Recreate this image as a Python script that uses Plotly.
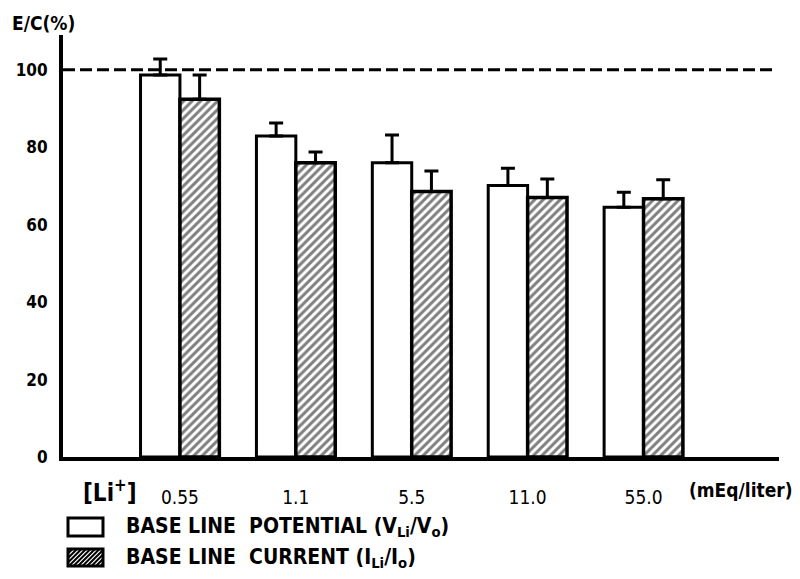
import plotly.graph_objects as go

# ---- data ----
concentrations = ["0.55", "1.1", "5.5", "11.0", "55.0"]
potential_values = [98.7, 82.9, 76.0, 70.1, 64.5]
potential_errors = [4.1, 3.4, 7.2, 4.5, 3.9]
current_values = [92.4, 76.0, 68.6, 67.0, 66.7]
current_errors = [6.3, 2.8, 5.3, 4.8, 4.9]
y_ticks = [0, 20, 40, 60, 80, 100]
reference_level = 100
series_names = ["BASE LINE  POTENTIAL (V<sub>Li</sub>/V<sub>o</sub>)",
                "BASE LINE  CURRENT (I<sub>Li</sub>/I<sub>o</sub>)"]

FONT = "DejaVu Sans Condensed, Liberation Sans Narrow, DejaVu Sans, sans-serif"
x_idx = list(range(len(concentrations)))

fig = go.Figure()
fig.add_trace(go.Bar(
    x=x_idx, y=potential_values, name=series_names[0],
    marker=dict(color="white", line=dict(color="black", width=3)),
    error_y=dict(type="data", symmetric=False, array=potential_errors,
                 arrayminus=[0] * len(potential_errors),
                 color="black", thickness=3, width=7),
    showlegend=False,
))
fig.add_trace(go.Bar(
    x=x_idx, y=current_values, name=series_names[1],
    marker=dict(color="white", line=dict(color="black", width=3.5),
                pattern=dict(shape="/", fgcolor="black", bgcolor="white",
                             size=6, solidity=0.5)),
    error_y=dict(type="data", symmetric=False, array=current_errors,
                 arrayminus=[0] * len(current_errors),
                 color="black", thickness=3, width=7),
    showlegend=False,
))

# reference dashed line at 100 %
fig.add_shape(type="line", xref="paper", yref="y", x0=0, x1=0.997,
              y0=reference_level, y1=reference_level,
              line=dict(color="black", width=3, dash="12px,5px"))

# ---- custom legend (positions in window pixels, converted to paper) ----
H = 422.0
W = 716.0
def px(xp):
    return (xp - 63) / W
def py(yp):
    return (457 - yp) / H

fig.add_shape(type="rect", xref="paper", yref="paper",
              x0=px(68), x1=px(103), y0=py(536), y1=py(518),
              line=dict(color="black", width=3), fillcolor="white")
fig.add_shape(type="rect", xref="paper", yref="paper",
              x0=px(68), x1=px(103), y0=py(566), y1=py(549),
              line=dict(color="black", width=3), fillcolor="white")
hatch = []
x0b, x1b, y0b, y1b = 68, 103, 549, 566
step = 4.5
k = x0b - (y1b - y0b)
while k < x1b:
    xa, ya = k, y1b
    xb, yb = k + (y1b - y0b), y0b
    if xa < x0b:
        ya = y1b - (x0b - xa); xa = x0b
    if xb > x1b:
        yb = y0b + (xb - x1b); xb = x1b
    hatch.append(f"M{px(xa)},{py(ya)} L{px(xb)},{py(yb)}")
    k += step
fig.add_shape(type="path", xref="paper", yref="paper", path=" ".join(hatch),
              line=dict(color="black", width=2))

fig.add_annotation(xref="paper", yref="paper", x=px(124), y=py(527),
                   xanchor="left", yanchor="middle", showarrow=False,
                   text="<b>" + series_names[0] + "</b>",
                   font=dict(family=FONT, size=21, color="black"))
fig.add_annotation(xref="paper", yref="paper", x=px(124), y=py(558),
                   xanchor="left", yanchor="middle", showarrow=False,
                   text="<b>" + series_names[1] + "</b>",
                   font=dict(family=FONT, size=21, color="black"))

fig.add_annotation(xref="paper", yref="paper", x=px(110), y=py(491),
                   xanchor="center", yanchor="middle", showarrow=False,
                   text="<b>[Li<sup>+</sup>]</b>",
                   font=dict(family=FONT, size=24, color="black"))
fig.add_annotation(xref="paper", yref="paper", x=px(741), y=py(490),
                   xanchor="center", yanchor="middle", showarrow=False,
                   text="<b>(mEq/liter)</b>",
                   font=dict(family=FONT, size=19, color="black"))
fig.add_annotation(xref="paper", yref="paper", x=px(43), y=py(23),
                   xanchor="center", yanchor="middle", showarrow=False,
                   text="<b>E/C(%)</b>",
                   font=dict(family=FONT, size=19, color="black"))

# page has an 8px body margin: shrink figure and margins to compensate
fig.update_layout(
    width=792, height=571,
    margin=dict(l=55, r=21, t=27, b=122, autoexpand=False),
    paper_bgcolor="white", plot_bgcolor="white",
    barmode="group", bargap=0.32, bargroupgap=0,
    font=dict(family=FONT, color="black"),
    xaxis=dict(range=[-1.009, 5.169], tickmode="array", tickvals=x_idx,
               ticktext=concentrations, showgrid=False, zeroline=False,
               showline=True, linecolor="black", linewidth=4, ticks="",
               ticklabelstandoff=20, automargin=False,
               tickfont=dict(family=FONT, size=19, color="black")),
    yaxis=dict(range=[0, 109], tickmode="array", tickvals=y_ticks,
               ticktext=[f"<b>{v}</b>" for v in y_ticks],
               showgrid=False, zeroline=False, showline=True,
               linecolor="black", linewidth=4, ticks="",
               ticklabelstandoff=8, automargin=False,
               tickfont=dict(family=FONT, size=17, color="black")),
)

fig.write_html("out.html")
